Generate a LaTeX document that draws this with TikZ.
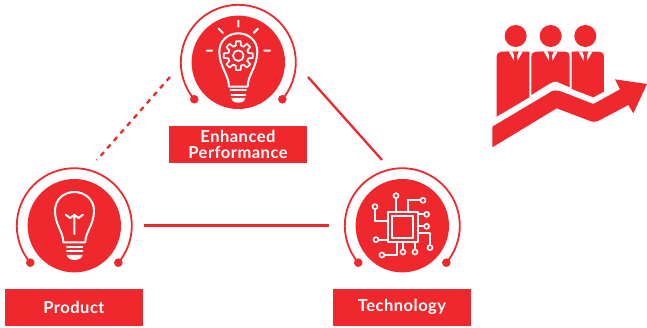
\documentclass[tikz,border=0pt]{standalone}
\usepackage{fontspec}
\setmainfont[LetterSpace=3]{Lato}
\definecolor{brand}{HTML}{EF282D}
\tikzset{
 disc/.style={circle,fill=brand,draw=none,minimum size=93.4pt,inner sep=0pt},
 ringline/.style={draw=brand,line width=1.8pt},
 endcap/.style={fill=brand,draw=none},
 tag/.style={fill=brand,text=white,minimum width=138pt,minimum height=36.8pt,inner sep=0pt,align=center,font=\fontsize{16.5}{16}\selectfont\bfseries},
 link/.style={draw=brand,line width=2.3pt},
 dashlink/.style={link,dash pattern=on 5pt off 5pt},
 icon/.style={draw=white,line width=2pt,line cap=round,line join=round},
 pin/.style={draw=white,fill=brand,line width=1.6pt},
}
\newcommand{\ringat}[1]{%
 \draw[ringline] (#1.center) ++(220:57.5pt) arc[start angle=220,end angle=-40,radius=57.5pt];
 \fill[endcap] (#1.center) ++(220:57.5pt) circle (4.3pt);
 \fill[endcap] (#1.center) ++(-40:57.5pt) circle (4.3pt);}
\begin{document}
\begin{tikzpicture}[x=1pt,y=-1pt]
\useasboundingbox (0,0) rectangle (647,327);
\node[disc] (idea) at (238.3,62.3) {};
\node[disc] (prod) at (74.3,225.7) {};
\node[disc] (tech) at (402.3,225.7) {};
\ringat{idea}\ringat{prod}\ringat{tech}
\node[tag] (ideatag) at (238,144.5) {Enhanced\\Performance};
\node[tag] (prodtag) at (74,307.3) {Product};
\node[tag] (techtag) at (402,307.3) {Technology};
\coordinate (d1) at (170,77); \coordinate (d2) at (97,160);
\coordinate (s1) at (308,77); \coordinate (s2) at (382,160);
\coordinate (h1) at (144,225.5); \coordinate (h2) at (329,225.5);
\draw[dashlink] (d1) -- (d2);
\draw[link] (s1) -- (s2);
\draw[link] (h1) -- (h2);
% idea bulb
\begin{scope}[shift={(160,0)},x=0.3333pt,y=-0.3333pt]
\draw[icon] (207,260) .. controls (207,225) and (178,200) .. (178,155) .. controls (178,122) and (204,100) .. (235,100) .. controls (266,100) and (292,122) .. (292,155) .. controls (292,200) and (263,225) .. (263,260) -- cycle;
\draw[icon] (212,271) -- (258,271) (214,284) -- (256,284);
\fill[white] (214,294) -- (256,294) .. controls (254,305) and (245,308) .. (235,308) .. controls (225,308) and (216,305) .. (214,294) -- cycle;
\draw[icon] (235,62) -- (235,80) (176,86) -- (189,99) (294,86) -- (281,99) (140,152) -- (157,152) (313,152) -- (330,152);
\begin{scope}[shift={(235,167)}]
\foreach \a in {0,45,...,315}{
 \draw[icon,line width=1.7pt] (\a-15:31) -- (\a-9:44) -- (\a+9:44) -- (\a+15:31) -- (\a+30:31);
}
\draw[icon,line width=1.7pt] (0,0) circle (16);
\end{scope}
\end{scope}
% product bulb
\begin{scope}[shift={(0,160)},x=0.3333pt,y=-0.3333pt]
\draw[icon] (190,247) .. controls (190,215) and (165,195) .. (165,152) .. controls (165,118) and (192,96) .. (223,96) .. controls (254,96) and (282,118) .. (282,152) .. controls (282,195) and (256,215) .. (256,247) -- cycle;
\draw[icon] (201,260) -- (247,260) (201,273) -- (247,273);
\fill[white] (200,285) -- (248,285) .. controls (246,296) and (233,300) .. (224,300) .. controls (214,300) and (202,296) .. (200,285) -- cycle;
\draw[icon] (223,222) -- (223,165) (197,164) -- (210,174) -- (223,165) -- (236,174) -- (249,164);
\end{scope}
% chip
\begin{scope}[shift={(325,160)},x=0.3333pt,y=-0.3333pt]
\draw[icon,line cap=butt] (188,157) rectangle (278,245);
\draw[icon,line cap=butt] (201,169) rectangle (265,233);
\draw[icon,line cap=butt] (213,107) -- (213,157)
 (294,121) -- (250,121) -- (250,157)
 (305,163) -- (278,163)
 (305,199) -- (278,199)
 (315,263) -- (315,220) -- (278,220)
 (150,140) -- (150,183) -- (188,183)
 (153,239) -- (188,239)
 (171,285) -- (215,285) -- (215,245)
 (234,276) -- (234,245)
 (270,276) -- (270,245);
\foreach \p in {(213,107),(294,121),(305,163),(305,199),(315,263),(150,140),(153,239),(171,285),(234,276),(270,276)}
 \draw[pin] \p circle (7.5);
\end{scope}
% people and arrow
\begin{scope}[shift={(485,10)},x=0.3333pt,y=-0.3333pt]
\fill[brand] (92,78) circle (33) (197,78) circle (33) (301,78) circle (33);
\fill[brand] (35,140) .. controls (35,130) and (42,125) .. (50,125) -- (133,125) -- (133,262) -- (35,320) -- cycle;
\fill[brand] (139,140) .. controls (139,130) and (146,125) .. (154,125) -- (240,125) .. controls (250,125) and (254,132) .. (254,140) -- (254,232) -- (215,215) .. controls (205,213) and (195,220) .. (139,255) -- cycle;
\fill[brand] (260,125) -- (342,125) .. controls (350,125) and (357,130) .. (357,140) -- (357,245) -- (325,262) -- (260,237) -- cycle;
\foreach \c in {92,197,301}{
 \fill[white] (\c-21,125) -- (\c+21,125) -- (\c,162) -- cycle;
 \fill[brand] (\c-9,125) -- (\c+9,125) -- (\c+4,138) -- (\c+7,158) -- (\c,163) -- (\c-7,158) -- (\c-4,138) -- cycle;
 \fill[brand] (\c-30,125) -- (\c-21,125) -- (\c-2,162) -- (\c-8,162) -- cycle;
}
\fill[brand] (22,350) -- (190,250) .. controls (200,241) and (215,238) .. (230,245) -- (325,282) -- (405,238) -- (390,208) -- (486,222) -- (445,310) -- (430,285) -- (345,330) .. controls (335,337) and (320,337) .. (310,331) -- (215,295) -- (22,412) -- cycle;
\end{scope}
\end{tikzpicture}
\end{document}
